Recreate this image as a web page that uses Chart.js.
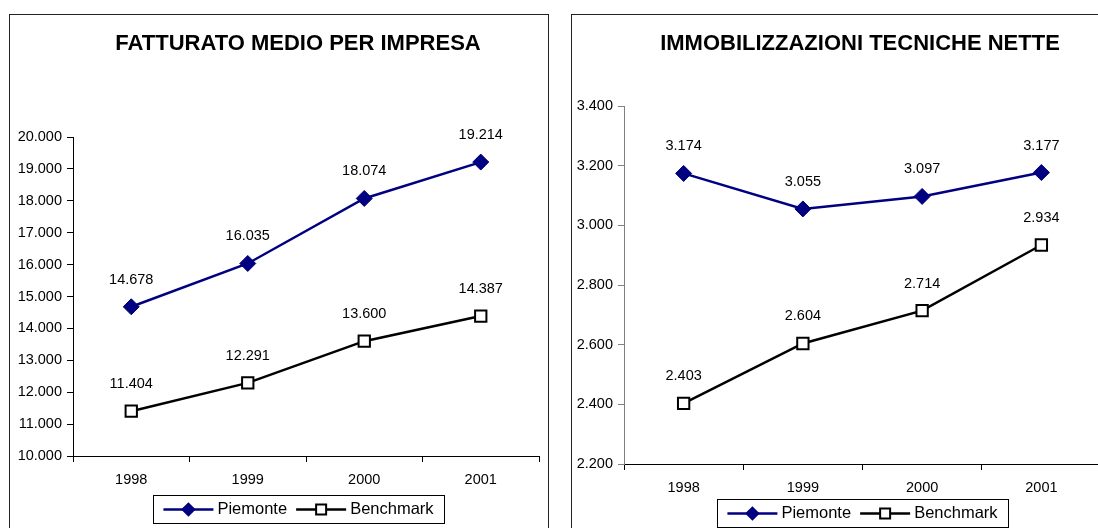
<!DOCTYPE html>
<html>
<head>
<meta charset="utf-8">
<script src="https://cdn.jsdelivr.net/npm/chart.js@4"></script>
<style>
  html, body { margin:0; padding:0; background:#fff; overflow:hidden; }
  body { width:1098px; height:528px; position:relative; }
  .box { position:absolute; top:14px; width:540px; height:530px; box-sizing:border-box; border:1px solid #222; }
  canvas { position:absolute; top:14px; }
</style>
</head>
<body>
<div class="box" style="left:9px"></div>
<div class="box" style="left:571px"></div>
<canvas id="fatturato" width="540" height="514" style="left:9px"></canvas>
<canvas id="immob" width="540" height="514" style="left:571px"></canvas>

<script>
// data
const years = ["1998", "1999", "2000", "2001"];
const seriesNames = ["Piemonte", "Benchmark"];

const fatturatoTitle = "FATTURATO MEDIO PER IMPRESA";
const fatturatoPiemonte = [14678, 16035, 18074, 19214];
const fatturatoBenchmark = [11404, 12291, 13600, 14387];

const immobTitle = "IMMOBILIZZAZIONI TECNICHE NETTE";
const immobPiemonte = [3174, 3055, 3097, 3177];
const immobBenchmark = [2403, 2604, 2714, 2934];

const NAVY = "#000080";
const FONT = "Arial, 'Liberation Sans', sans-serif";

// 12345 -> "12.345"
function fmt(v){
  return Math.round(v).toString().replace(/\B(?=(\d{3})+(?!\d))/g, ".");
}

// title, value labels and framed legend
const decor = {
  id: "decor",
  afterDatasetsDraw(chart, args, o){
    const ctx = chart.ctx;
    ctx.save();

    ctx.fillStyle = "#000";
    ctx.font = "bold 22px " + FONT;
    ctx.textAlign = "center";
    ctx.textBaseline = "middle";
    ctx.fillText(o.title, 289, 30);

    ctx.font = "14.5px " + FONT;
    chart.data.datasets.forEach((ds, i) => {
      chart.getDatasetMeta(i).data.forEach((pt, j) => {
        ctx.fillText(fmt(ds.data[j]), pt.x, pt.y - 27);
      });
    });

    // legend
    ctx.font = "16.5px " + FONT;
    const lineLen = 50, gapTxt = 4, gapItem = 9;
    const widths = chart.data.datasets.map(ds => ctx.measureText(ds.label).width);
    const content = widths.reduce((a, w) => a + lineLen + gapTxt + w, 0) + gapItem;
    const bw = 291, bh = 28;
    const bx = o.legendX - bw / 2, by = o.legendY;
    ctx.strokeStyle = "#000";
    ctx.lineWidth = 1;
    ctx.strokeRect(Math.round(bx) + 0.5, by + 0.5, bw, bh);

    let x = o.legendX - content / 2;
    const cy = by + bh / 2 + 0.5;
    chart.data.datasets.forEach((ds, i) => {
      ctx.strokeStyle = ds.borderColor;
      ctx.lineWidth = 2.5;
      ctx.beginPath();
      ctx.moveTo(x, cy); ctx.lineTo(x + lineLen, cy);
      ctx.stroke();
      Chart.helpers.drawPoint(ctx, {
        pointStyle: ds.pointStyle, radius: 5.5, borderWidth: ds.pointBorderWidth
      }, x + lineLen / 2, cy);
      ctx.fillStyle = ds.pointBackgroundColor;
      ctx.strokeStyle = ds.borderColor;
      ctx.lineWidth = ds.pointBorderWidth;
      ctx.beginPath();
      if(ds.pointStyle === "rectRot"){
        const r = 5.5;
        ctx.moveTo(x + lineLen/2, cy - r); ctx.lineTo(x + lineLen/2 + r, cy);
        ctx.lineTo(x + lineLen/2, cy + r); ctx.lineTo(x + lineLen/2 - r, cy);
        ctx.closePath(); ctx.fill();
      } else {
        ctx.rect(x + lineLen/2 - 5, cy - 5, 10, 10);
        ctx.fill(); ctx.stroke();
      }
      x += lineLen + gapTxt;
      ctx.fillStyle = "#000";
      ctx.textAlign = "left";
      ctx.fillText(ds.label, x, cy);
      x += widths[i] + gapItem;
    });
    ctx.restore();
  }
};

function makeChart(id, title, piemonte, benchmark, range, layout){
  return new Chart(document.getElementById(id), {
    type: "line",
    data: {
      labels: years,
      datasets: [
        { label: seriesNames[0], data: piemonte, borderColor: NAVY, borderWidth: 2.5,
          pointStyle: "rectRot", pointRadius: 8, pointBackgroundColor: NAVY,
          pointBorderColor: NAVY, pointBorderWidth: 1, tension: 0 },
        { label: seriesNames[1], data: benchmark, borderColor: "#000", borderWidth: 2.5,
          pointStyle: "rect", pointRadius: 8, pointBackgroundColor: "#fff",
          pointBorderColor: "#000", pointBorderWidth: 2, tension: 0 }
      ]
    },
    options: {
      responsive: false,
      animation: false,
      layout: { padding: layout.padding },
      plugins: {
        legend: { display: false },
        tooltip: { enabled: false },
        decor: { title: title, legendX: layout.legendX, legendY: layout.legendY }
      },
      scales: {
        x: {
          offset: true,
          grid: { offset: true, drawOnChartArea: false, tickLength: 6, color: "#000" },
          border: { color: "#000", width: 1 },
          ticks: { padding: 9, color: "#000", font: { family: FONT, size: 14.5 } },
          afterFit: s => { s.height = 40; }
        },
        y: {
          min: range[0], max: range[1],
          grid: { drawOnChartArea: false, tickLength: 6, color: layout.yColor },
          border: { color: layout.yColor, width: 1 },
          ticks: { stepSize: range[2], padding: 5, color: "#000",
            font: { family: FONT, size: 14.5 }, callback: v => fmt(v) },
          afterFit: s => { s.width = layout.yWidth; }
        }
      }
    },
    plugins: [decor]
  });
}

makeChart("fatturato", fatturatoTitle, fatturatoPiemonte, fatturatoBenchmark,
  [10000, 20000, 1000],
  { padding: { top: 123, right: 7, bottom: 32, left: 0 }, yWidth: 64,
    yColor: "#000", legendX: 289.5, legendY: 481 });

makeChart("immob", immobTitle, immobPiemonte, immobBenchmark,
  [2200, 3400, 200],
  { padding: { top: 92, right: 3, bottom: 24, left: 0 }, yWidth: 53,
    yColor: "#808080", legendX: 291.5, legendY: 485 });
</script>
</body>
</html>
